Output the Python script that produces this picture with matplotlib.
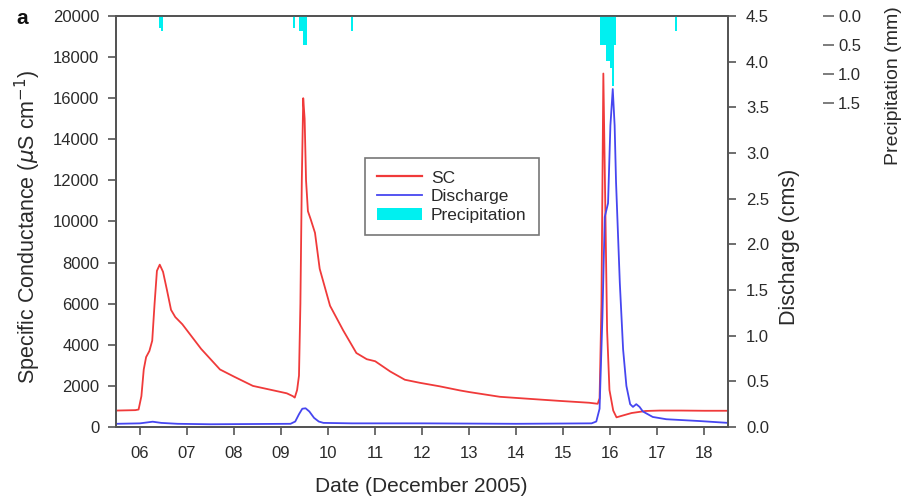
import matplotlib
matplotlib.use("Agg")
import matplotlib.pyplot as plt
from matplotlib.lines import Line2D
from matplotlib.patches import Patch

plt.rcParams['font.family'] = ['Liberation Sans', 'DejaVu Sans']

# Specific conductance (uS/cm) against day of December 2005
sc_day = [5.49, 5.90, 5.97, 6.03, 6.08, 6.13, 6.20, 6.26, 6.31, 6.36, 6.42, 6.49,
          6.57, 6.66, 6.75, 6.90, 7.10, 7.30, 7.50, 7.70, 8.00, 8.40, 8.80, 9.12,
          9.25, 9.29, 9.34, 9.38, 9.41, 9.44, 9.47, 9.50, 9.53, 9.57, 9.63, 9.72,
          9.82, 10.04, 10.32, 10.60, 10.82, 11.00, 11.32, 11.63, 11.95, 12.37,
          12.80, 13.00, 13.65, 14.28, 14.92, 15.55, 15.73, 15.77, 15.81, 15.85,
          15.89, 15.93, 15.98, 16.06, 16.13, 16.25, 16.45, 16.75, 17.05, 17.50,
          18.00, 18.50]
sc_val = [800, 820, 850, 1500, 2800, 3400, 3700, 4200, 6000, 7600, 7900, 7550,
          6700, 5700, 5350, 5000, 4400, 3800, 3300, 2800, 2450, 2000, 1800, 1640,
          1500, 1430, 1800, 2500, 6000, 12000, 16000, 15000, 12000, 10500, 10100, 9450,
          7700, 5900, 4700, 3600, 3300, 3200, 2700, 2300, 2150, 1980,
          1780, 1700, 1470, 1370, 1270, 1180, 1130, 1400, 6000, 17200,
          11000, 4700, 1800, 800, 470, 550, 680, 780, 800, 800,
          790, 790]

# Discharge (cms)
q_day = [5.49, 6.00, 6.15, 6.27, 6.45, 6.80, 7.50, 9.20, 9.30, 9.38, 9.45, 9.52,
         9.60, 9.70, 9.80, 9.90, 10.50, 12.00, 14.00, 15.60, 15.70, 15.77, 15.83,
         15.88, 15.95, 16.00, 16.05, 16.09, 16.12, 16.20, 16.27, 16.34, 16.42,
         16.48, 16.55, 16.62, 16.69, 16.90, 17.19, 17.90, 18.50]
q_val = [0.035, 0.040, 0.050, 0.058, 0.045, 0.035, 0.030, 0.035, 0.060, 0.140, 0.200, 0.205,
         0.170, 0.100, 0.060, 0.045, 0.040, 0.040, 0.035, 0.040, 0.060, 0.200, 1.200,
         2.300, 2.450, 3.300, 3.700, 3.300, 2.680, 1.580, 0.850, 0.450, 0.250,
         0.220, 0.250, 0.220, 0.170, 0.110, 0.085, 0.065, 0.045]

# Hourly precipitation (mm)
p_day = [6.42, 6.47, 9.28, 9.41, 9.45, 9.49, 9.53, 10.50, 15.81, 15.85, 15.89,
         15.93, 15.97, 16.02, 16.06, 16.10, 17.40]
p_mm = [0.20, 0.25, 0.20, 0.25, 0.25, 0.50, 0.50, 0.25, 0.50, 0.50, 0.50,
        0.77, 0.77, 0.90, 1.20, 0.50, 0.25]

day_ticks = list(range(6, 19))
day_labels = [f"{d:02d}" for d in day_ticks]
sc_ticks = list(range(0, 20001, 2000))
q_ticks = [0.0, 0.5, 1.0, 1.5, 2.0, 2.5, 3.0, 3.5, 4.0, 4.5]
p_ticks = [0.0, 0.5, 1.0, 1.5]

TXT = '#2a2a2a'
SPINE = '#555555'
RED = '#f03a3a'
BLUE = '#4646f0'
CYAN = '#00f0f0'
TICK_FS = 12

fig = plt.figure(figsize=(9.06, 4.99), dpi=100)
ax = fig.add_axes([116 / 906, 1 - 427 / 499, 612 / 906, 411 / 499])
ax2 = ax.twinx()
ax3 = ax.twinx()

ax.plot(sc_day, sc_val, color=RED, lw=1.3)
ax2.plot(q_day, q_val, color=BLUE, lw=1.3)
ax3.bar(p_day, p_mm, width=1 / 24, color=CYAN, linewidth=0, align='center')

ax.set_xlim(5.49, 18.5)
ax.set_ylim(0, 20000)
ax2.set_ylim(0, 4.5)
ax3.set_ylim(7.07, 0)

ax.set_xticks(day_ticks)
ax.set_xticklabels(day_labels)
ax.set_yticks(sc_ticks)
ax2.set_yticks(q_ticks)
ax2.set_yticklabels([f"{v:.1f}" for v in q_ticks])
ax3.set_yticks(p_ticks)
ax3.set_yticklabels([f"{v:.1f}" for v in p_ticks])

for a in (ax, ax2, ax3):
    for s in a.spines.values():
        s.set_color(SPINE)
        s.set_linewidth(1.3)

ax.tick_params(axis='both', direction='out', length=6, width=1.2, color=SPINE,
               labelsize=TICK_FS, labelcolor=TXT, pad=6)
ax.tick_params(axis='x', pad=8)
ax2.tick_params(axis='y', direction='out', length=6, width=1.2, color=SPINE,
                labelsize=TICK_FS, labelcolor=TXT, pad=7)
ax3.spines['right'].set_position(('axes', 1.155))
ax3.spines['right'].set_visible(False)
ax3.tick_params(axis='y', direction='out', length=8, width=1.2, color='#666666',
                labelsize=TICK_FS, labelcolor=TXT, pad=3)

fig.text(28 / 906, 1 - 227 / 499, r'Specific Conductance ($\mu$S cm$^{-1}$)',
         rotation=90, ha='center', va='center', fontsize=15.5, color=TXT)
fig.text(789 / 906, 1 - 247 / 499, 'Discharge (cms)', rotation=90,
         ha='center', va='center', fontsize=15.5, color=TXT)
fig.text(893 / 906, 1 - 86 / 499, 'Precipitation (mm)', rotation=90,
         ha='center', va='center', fontsize=14, color=TXT)
fig.text(421 / 906, 1 - 487 / 499, 'Date (December 2005)',
         ha='center', va='center', fontsize=15, color=TXT)
fig.text(22 / 906, 1 - 19 / 499, 'a', ha='center', va='center',
         fontsize=15, fontweight='bold', color='#111111')

handles = [Line2D([], [], color=RED, lw=1.6),
           Line2D([], [], color=BLUE, lw=1.3),
           Patch(facecolor=CYAN, edgecolor='none')]
leg = ax3.legend(handles, ['SC', 'Discharge', 'Precipitation'],
                 loc='upper left', bbox_to_anchor=(0.407, 0.654), borderaxespad=0,
                 fancybox=False, frameon=True, fontsize=12.5, handlelength=2.6,
                 handletextpad=0.5, labelspacing=0.2, borderpad=0.7)
leg.get_frame().set_edgecolor('#555555')
leg.get_frame().set_linewidth(1.2)
for t in leg.get_texts():
    t.set_color(TXT)

fig.savefig('out.png', dpi=100)
